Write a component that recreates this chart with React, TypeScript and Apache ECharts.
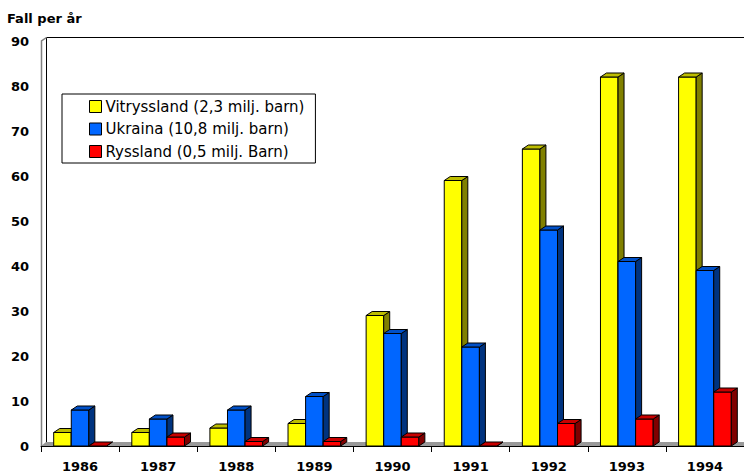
import React, { useEffect, useRef } from "react";
import * as echarts from "echarts";

const years = ["1986", "1987", "1988", "1989", "1990", "1991", "1992", "1993", "1994"];
const vitryssland = [3, 3, 4, 5, 29, 59, 66, 82, 82];
const ukraina = [8, 6, 8, 11, 25, 22, 48, 41, 39];
const ryssland = [0, 2, 1, 1, 2, 0, 5, 6, 12];
const seriesNames = [
  "Vitryssland (2,3 milj. barn)",
  "Ukraina (10,8 milj. barn)",
  "Ryssland (0,5 milj. Barn)",
];
const yMin = 0;
const yMax = 90;
const yInterval = 10;

const palettes = [
  { front: "#FFFF00", top: "#BDBD00", side: "#808000" },
  { front: "#0066FF", top: "#0050C8", side: "#00337F" },
  { front: "#FF0000", top: "#C80000", side: "#800000" },
];

const DX = 6;
const DY = -4;

function barRenderer(idx: number) {
  return (params: any, api: any) => {
    const cat = api.value(0);
    const v = api.value(1);
    const base = api.coord([cat, 0]);
    const topPt = api.coord([cat, v]);
    const band = api.size([1, 0])[0];
    const bw = band * 0.225;
    const x0 = base[0] - 1.5 * bw + idx * bw;
    const x1 = x0 + bw;
    const yb = base[1];
    const yt = topPt[1];
    const pal = palettes[idx];
    const st = (fill: string) => ({ fill, stroke: "#000", lineWidth: 1, lineJoin: "miter" });
    return {
      type: "group",
      children: [
        { type: "polygon", shape: { points: [[x0, yb], [x1, yb], [x1, yt], [x0, yt]] }, style: st(pal.front) },
        { type: "polygon", shape: { points: [[x1, yb], [x1 + DX, yb + DY], [x1 + DX, yt + DY], [x1, yt]] }, style: st(pal.side) },
        { type: "polygon", shape: { points: [[x0, yt], [x1, yt], [x1 + DX, yt + DY], [x0 + DX, yt + DY]] }, style: st(pal.top) },
      ],
    };
  };
}

function frameRenderer(params: any, api: any) {
  const cs = params.coordSys;
  const L = cs.x;
  const T = cs.y;
  const R = cs.x + cs.width;
  const B = cs.y + cs.height;
  const wx = 5;
  const wy = -4;
  return {
    type: "group",
    children: [
      {
        type: "polygon",
        shape: { points: [[L, B], [R, B], [R + wx, B + wy], [L + wx, B + wy]] },
        style: { fill: "#999999", stroke: null },
      },
      {
        type: "polyline",
        shape: { points: [[L + wx + 0.5, B + wy], [L + wx + 0.5, T + wy + 0.5], [R + wx + 10, T + wy + 0.5]] },
        style: { fill: null, stroke: "#000", lineWidth: 1 },
      },
      {
        type: "polyline",
        shape: { points: [[L + 0.5, B], [L + 0.5, T], [L + wx + 0.5, T + wy + 0.5]] },
        style: { fill: null, stroke: "#808080", lineWidth: 1.5 },
      },
    ],
  };
}

export default function App() {
  const ref = useRef<HTMLDivElement>(null);
  useEffect(() => {
    if (!ref.current) return;
    const chart = echarts.init(ref.current, undefined, { renderer: "svg" });
    const datasets = [vitryssland, ukraina, ryssland];
    chart.setOption({
      animation: false,
      backgroundColor: "#ffffff",
      title: {
        text: "Fall per år",
        left: 7,
        top: 12,
        padding: 0,
        textStyle: { fontFamily: "DejaVu Sans", fontWeight: "bold", fontSize: 13, color: "#000" },
      },
      legend: {
        orient: "vertical",
        left: 62,
        top: 94,
        padding: [5, 11, 4, 27],
        itemGap: 7.5,
        itemWidth: 12,
        itemHeight: 12,
        backgroundColor: "#ffffff",
        borderColor: "#000",
        borderWidth: 1,
        borderRadius: 0,
        icon: "rect",
        itemStyle: { borderColor: "#000", borderWidth: 1 },
        textStyle: { fontFamily: "DejaVu Sans", fontSize: 15, color: "#000", padding: [0, 0, 0, -1] },
        data: seriesNames,
      },
      grid: { left: 41, right: 0, top: 41, bottom: 29, containLabel: false },
      xAxis: {
        type: "category",
        data: years,
        axisLine: { show: true, lineStyle: { color: "#000", width: 1 } },
        axisTick: { show: true, length: 6, lineStyle: { color: "#000" } },
        axisLabel: { margin: 14, fontFamily: "DejaVu Sans", fontWeight: "bold", fontSize: 13, color: "#000" },
        splitLine: { show: false },
      },
      yAxis: {
        type: "value",
        min: yMin,
        max: yMax,
        interval: yInterval,
        axisLine: { show: false },
        axisTick: { show: false },
        splitLine: { show: false },
        axisLabel: { margin: 12, fontFamily: "DejaVu Sans", fontWeight: "bold", fontSize: 13, color: "#000" },
      },
      series: [
        {
          type: "custom",
          name: "frame",
          silent: true,
          z: 1,
          renderItem: frameRenderer,
          data: [[years[0], 0]],
          encode: { x: 0, y: 1 },
        },
        ...datasets.map((arr, idx) => ({
          type: "custom",
          name: seriesNames[idx],
          z: 3 + idx,
          itemStyle: { color: palettes[idx].front },
          renderItem: barRenderer(idx),
          data: arr.map((v, i) => [years[i], v]),
          encode: { x: 0, y: 1 },
        })),
      ],
    });
    return () => chart.dispose();
  }, []);
  return <div ref={ref} style={{ position: "fixed", left: 0, top: 0, width: 744, height: 475 }} />;
}
